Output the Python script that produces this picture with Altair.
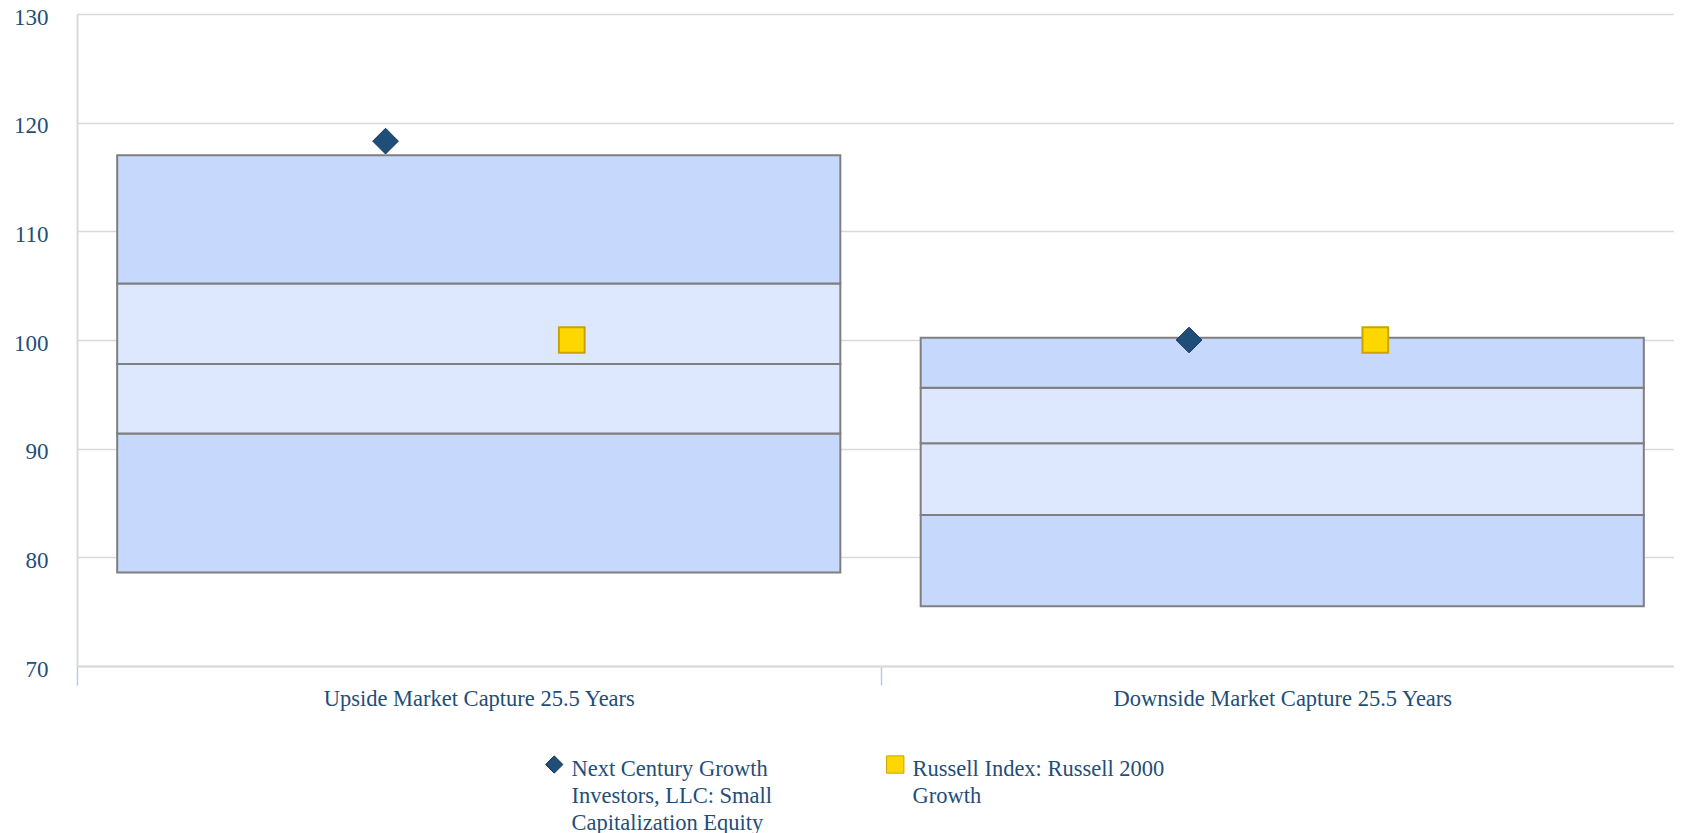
import json
import altair as alt
import pandas as pd

# ---------------- data ----------------
categories = ["Upside Market Capture 25.5 Years", "Downside Market Capture 25.5 Years"]
p05 = [78.6, 75.5]
p25 = [91.4, 83.9]
p50 = [97.8, 90.5]
p75 = [105.2, 95.6]
p95 = [117.0, 100.2]

series = [
    "Next Century Growth Investors, LLC: Small Capitalization Equity",
    "Russell Index: Russell 2000 Growth",
]
series_lines = [
    ["Next Century Growth", "Investors, LLC: Small", "Capitalization Equity"],
    ["Russell Index: Russell 2000", "Growth", ""],
]
manager_values = [118.3, 100.0]
index_values = [100.0, 100.0]

y_ticks = [70, 80, 90, 100, 110, 120, 130]

# ---------------- tables ----------------
rows = []
seg_kind = ["outer", "inner", "inner", "outer"]
for i, c in enumerate(categories):
    b = [p05[i], p25[i], p50[i], p75[i], p95[i]]
    for j in range(4):
        rows.append({"category": c, "lo": b[j], "hi": b[j + 1], "band": seg_kind[j]})
box_df = pd.DataFrame(rows)

mgr_df = pd.DataFrame({"category": categories, "series": series[0], "value": manager_values})
idx_df = pd.DataFrame({"category": categories, "series": series[1], "value": index_values})

FONT = "Liberation Serif"
TXT = "#1f4e79"
LABEL_DY = 4.7  # shared vertical nudge of guide labels (legend text sits a bit below its symbol)

x_scale = alt.Scale(domain=categories, paddingInner=0, paddingOuter=0)
y_scale = alt.Scale(domain=[70, 130], nice=False, zero=False)

label_expr = (
    f"datum.label == {json.dumps(series[0])} ? {json.dumps(series_lines[0])} : "
    f"{json.dumps(series_lines[1])}"
)

legend = alt.Legend(
    title=None,
    orient="none",
    legendX=466,
    legendY=739,
    direction="horizontal",
    columns=2,
    columnPadding=111,
    padding=0,
    labelFont=FONT,
    labelFontSize=22.5,
    labelColor=TXT,
    labelLimit=0,
    labelOffset=6,
    labelExpr=label_expr,
    symbolSize=300,
    symbolStrokeWidth=1,
    symbolOpacity=1,
)

shape_scale = alt.Scale(domain=series, range=["diamond", "square"])
fill_scale = alt.Scale(domain=series, range=["#1f4e79", "#ffd700"])
stroke_scale = alt.Scale(domain=series, range=["#17375e", "#c9a400"])

bars = alt.Chart(box_df).mark_bar(
    stroke="#7f7f7f", strokeWidth=2, width=alt.RelativeBandSize(0.9)
).encode(
    x=alt.X(
        "category:N",
        sort=categories,
        scale=x_scale,
        title=None,
        axis=alt.Axis(
            labelFont=FONT,
            labelFontSize=22.5,
            labelColor=TXT,
            labelAngle=0,
            labelLimit=0,
            labelPadding=2 - LABEL_DY,
            tickBand="extent",
            ticks=True,
            tickSize=19,
            tickColor="#b9cde5",
            tickWidth=1.5,
            domainColor="#d9d9d9",
            domainWidth=2,
            grid=False,
        ),
    ),
    y=alt.Y(
        "lo:Q",
        scale=y_scale,
        title=None,
        axis=alt.Axis(
            values=y_ticks,
            labelFont=FONT,
            labelFontSize=23,
            labelColor=TXT,
            labelPadding=29,
            labelOffset=3 - LABEL_DY,
            ticks=False,
            grid=True,
            gridColor="#d9d9d9",
            gridWidth=1.5,
            domainColor="#d9d9d9",
            domainWidth=2,
        ),
    ),
    y2="hi:Q",
    fill=alt.condition(alt.datum.band == "outer", alt.value("#c6d9fd"), alt.value("#dde7fe")),
)


def point_layer(df, band_pos, stroke_w):
    return alt.Chart(df).mark_point(filled=True, size=660, strokeWidth=stroke_w, opacity=1).encode(
        x=alt.X("category:N", sort=categories, scale=x_scale, bandPosition=band_pos),
        y=alt.Y("value:Q", scale=y_scale),
        shape=alt.Shape("series:N", scale=shape_scale, legend=legend),
        fill=alt.Fill("series:N", scale=fill_scale, legend=legend),
        stroke=alt.Stroke("series:N", scale=stroke_scale, legend=legend),
    )


mgr_points = point_layer(mgr_df, 0.384, 1)
idx_points = point_layer(idx_df, 0.6158, 2)

chart = (
    alt.layer(bars, idx_points, mgr_points)
    .properties(
        width=1607,
        height=652,
        autosize=alt.AutoSizeParams(type="none"),
        padding={"left": 69, "top": 6, "right": -10, "bottom": 175},
    )
    .configure(
        view=alt.ViewConfig(strokeWidth=0),
        style={"guide-label": {"lineHeight": 27, "dy": LABEL_DY}},
    )
)

chart.save("out.html", embed_options={"renderer": "svg", "actions": False})
